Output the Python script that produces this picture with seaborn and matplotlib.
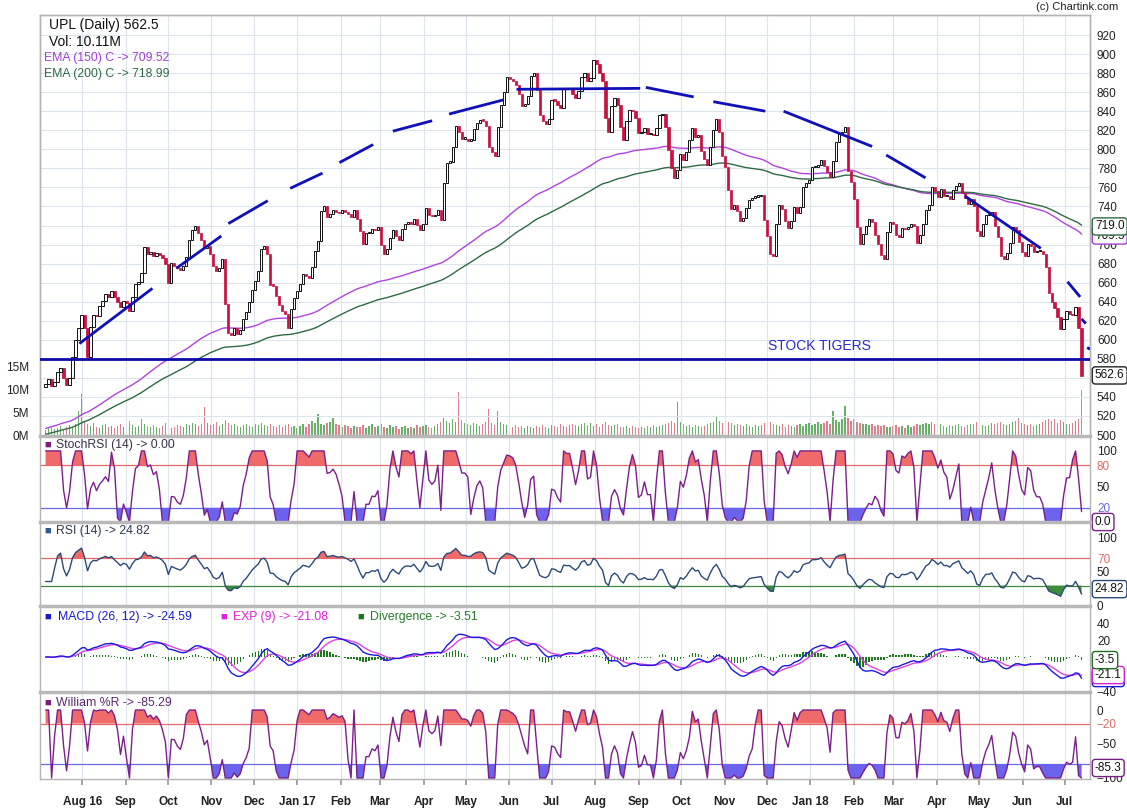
import numpy as np
import pandas as pd
import matplotlib
matplotlib.use("Agg")
import matplotlib.pyplot as plt
import matplotlib.dates as mdates
import seaborn as sns

# ---------------- data ----------------
start_date = "2016-07-06"
end_date = "2018-07-13"
n_trading_days = 505
first_open = 550.0
closes = [
    554, 559, 551, 556, 566, 570, 560, 553, 560, 582, 600, 612, 626, 612, 582, 613, 626, 625, 635, 641,
    648, 645, 651, 645, 640, 634, 641, 639, 630, 645, 659, 661, 670, 697, 690, 692, 688, 691, 689, 686,
    680, 660, 681, 678, 675, 673, 678, 687, 705, 715, 720, 712, 705, 696, 699, 690, 677, 672, 675, 685,
    638, 607, 605, 612, 606, 610, 622, 629, 640, 652, 662, 672, 695, 699, 690, 658, 657, 646, 637, 630,
    627, 612, 632, 644, 651, 659, 669, 667, 665, 676, 693, 704, 735, 740, 729, 732, 736, 734, 733, 736,
    734, 732, 729, 736, 727, 714, 701, 712, 712, 716, 715, 718, 700, 690, 695, 707, 715, 709, 705, 716,
    722, 723, 722, 727, 721, 715, 722, 738, 731, 730, 731, 736, 726, 765, 786, 787, 802, 824, 818, 811,
    811, 809, 810, 821, 828, 831, 830, 824, 802, 797, 793, 823, 846, 860, 876, 874, 872, 868, 858, 845,
    848, 856, 877, 880, 862, 836, 830, 827, 832, 852, 851, 846, 843, 864, 863, 863, 858, 854, 861, 876,
    880, 872, 875, 894, 890, 880, 872, 833, 818, 845, 854, 846, 823, 810, 830, 841, 840, 833, 817, 818,
    822, 816, 816, 815, 822, 836, 837, 823, 799, 780, 770, 778, 795, 789, 797, 810, 822, 813, 815, 798,
    790, 784, 802, 820, 832, 818, 793, 781, 757, 737, 741, 735, 725, 728, 738, 747, 749, 750, 751, 752,
    726, 709, 690, 688, 722, 741, 737, 725, 717, 725, 739, 733, 739, 760, 765, 768, 781, 781, 783, 789,
    782, 776, 771, 788, 808, 816, 818, 823, 777, 766, 748, 718, 701, 711, 720, 727, 724, 710, 701, 689,
    685, 713, 724, 722, 710, 708, 717, 716, 718, 722, 719, 702, 710, 722, 736, 742, 760, 756, 750, 758,
    751, 751, 748, 757, 761, 765, 754, 749, 743, 748, 740, 714, 709, 722, 731, 731, 734, 720, 708, 688,
    685, 691, 702, 718, 715, 703, 692, 688, 701, 699, 692, 693, 693, 690, 676, 649, 640, 633, 624, 611,
    622, 630, 627, 626, 634, 612, 562.5,
]
volumes_m = [
    1.4, 1.7, 2.1, 1.5, 1.8, 2.2, 1.6, 1.9, 2.4, 2.0, 2.6, 5.5, 9.2, 3.1, 2.5, 2.2, 2.8, 2.0, 1.8, 2.3,
    2.6, 1.9, 2.2, 1.7, 2.1, 2.5, 1.9, 2.8, 3.3, 2.4, 2.0, 2.2, 3.6, 2.7, 2.1, 1.9, 2.3, 2.0, 1.7, 2.2,
    2.9, 2.1, 1.8, 2.0, 2.4, 2.2, 1.9, 2.6, 2.3, 2.8, 2.5, 2.1, 2.7, 6.2, 2.9, 2.4, 2.6, 3.0, 2.2, 2.5,
    3.4, 2.8, 2.3, 2.6, 2.1, 1.9, 2.4, 2.7, 2.2, 2.0, 2.5, 2.3, 2.9, 2.4, 2.1, 2.6, 2.2, 1.9, 2.4, 2.0,
    2.3, 2.6, 1.9, 2.1, 1.8, 2.2, 2.5, 2.0, 2.7, 3.2, 2.9, 4.8, 2.6, 2.3, 2.8, 3.1, 4.0, 2.7, 2.3, 2.0,
    2.4, 2.1, 1.8, 2.2, 1.9, 2.0, 2.3, 1.7, 2.1, 2.5, 1.9, 2.2, 2.6, 2.0, 1.8, 2.3, 1.9, 2.1, 1.6, 2.0,
    2.2, 1.8, 2.0, 1.7, 2.3, 1.9, 2.1, 2.4, 2.0, 1.8, 2.2, 2.6, 3.0, 4.0, 3.3, 2.8, 3.6, 3.1, 9.5, 3.4,
    2.9, 2.6, 2.3, 2.8, 2.5, 2.2, 2.7, 3.1, 5.9, 2.9, 2.4, 5.5, 3.0, 2.7, 2.4, 2.2, 2.0, 2.3, 1.9, 2.1,
    1.8, 2.2, 2.0, 1.7, 2.1, 1.9, 2.4, 2.0, 1.8, 2.3, 2.1, 1.9, 2.5, 2.2, 2.0, 2.4, 2.7, 2.3, 2.1, 2.6,
    2.9, 2.4, 2.8, 2.2, 2.5, 2.0, 2.7, 3.0, 2.4, 2.1, 2.3, 2.6, 2.0, 1.9, 2.2, 1.8, 2.1, 1.9, 1.7, 2.0,
    1.8, 2.1, 1.9, 2.3, 2.0, 2.2, 2.4, 2.6, 2.9, 3.2, 2.8, 7.3, 3.0, 2.6, 2.2, 2.4, 2.0, 2.3, 2.1, 1.9,
    2.2, 2.5, 2.8, 3.0, 4.4, 3.2, 2.9, 2.6, 3.1, 2.8, 2.4, 2.6, 2.3, 2.1, 2.5, 2.2, 2.0, 2.4, 2.1, 2.3,
    2.8, 3.3, 3.0, 2.6, 2.4, 2.2, 2.5, 2.0, 2.3, 2.1, 1.9, 2.4, 2.6, 2.2, 2.5, 2.8, 2.4, 2.7, 3.0, 2.6,
    2.9, 3.2, 2.7, 5.5, 3.4, 3.0, 3.8, 6.6, 3.9, 3.3, 3.6, 3.1, 2.8, 2.5, 2.7, 2.3, 2.6, 2.2, 2.4, 2.1,
    2.3, 2.0, 1.9, 2.2, 2.4, 2.0, 2.1, 1.8, 2.3, 2.0, 2.2, 2.5, 2.3, 2.6, 2.9, 2.7, 3.1, 2.5, 2.3, 2.6,
    2.2, 2.0, 2.4, 2.1, 2.3, 2.5, 2.2, 2.0, 2.4, 2.7, 2.5, 3.0, 2.6, 2.3, 2.1, 2.4, 2.8, 2.5, 2.9, 3.1,
    2.7, 2.4, 2.6, 3.0, 3.3, 4.0, 2.9, 2.6, 2.3, 2.5, 2.2, 2.4, 2.7, 3.0, 3.4, 3.8, 3.2, 3.6, 2.9, 3.5,
    3.1, 2.7, 2.5, 2.9, 3.3, 3.7, 10.1,
]
ema150_seed = 506.0
ema200_seed = 500.0
support_price = 580.0
month_starts = pd.date_range("2016-08-01", "2018-07-01", freq="MS")
month_labels = ["Aug 16", "Sep", "Oct", "Nov", "Dec", "Jan 17", "Feb", "Mar", "Apr",
                "May", "Jun", "Jul", "Aug", "Sep", "Oct", "Nov", "Dec", "Jan 18",
                "Feb", "Mar", "Apr", "May", "Jun", "Jul"]
trend_start_dates = ["2016-07-30", "2016-10-07", "2016-11-13", "2016-12-27", "2017-01-31",
                     "2017-03-10", "2017-04-19", "2017-06-06", "2017-09-06", "2017-10-24",
                     "2017-12-13", "2018-02-24", "2018-04-21", "2018-07-03", "2018-07-13",
                     "2018-07-17"]
trend_start_prices = [596, 675, 722, 759, 786, 819, 837, 863, 865, 850, 840, 794, 751, 661, 622, 592]
trend_end_dates = ["2016-09-20", "2016-11-08", "2016-12-11", "2017-01-19", "2017-02-24",
                   "2017-04-07", "2017-05-28", "2017-09-02", "2017-10-10", "2017-11-30",
                   "2018-02-14", "2018-03-24", "2018-06-14", "2018-07-12", "2018-07-16",
                   "2018-07-19"]
trend_end_prices = [654, 709, 746, 775, 805, 830, 852, 864, 855, 840, 803, 770, 696, 645, 617, 590]
price_ticks = list(range(500, 921, 20))
vol_ticks = [0, 5, 10, 15]
vol_labels = ["0M", "5M", "10M", "15M"]

# ---------------- derived series ----------------
c = pd.Series(closes, dtype=float)
dates = pd.date_range(start_date, end_date, periods=len(c))
x = mdates.date2num(dates)
opens = np.r_[first_open, c.values[:-1]]
vols = np.array(volumes_m)
up = c.values >= opens

step = n_trading_days / (len(c) - 1)          # trading days per sample


def per(p):
    return max(2, int(round(p / step)))


ema150 = pd.Series([ema150_seed] + closes).ewm(span=per(150), adjust=False).mean().values[1:]
ema200 = pd.Series([ema200_seed] + closes).ewm(span=per(200), adjust=False).mean().values[1:]

d = c.diff()
ag = d.clip(lower=0).ewm(alpha=1 / per(14), adjust=True).mean()
al = (-d.clip(upper=0)).ewm(alpha=1 / per(14), adjust=True).mean()
rsi = (100 - 100 / (1 + ag / al.replace(0, np.nan))).bfill().fillna(50)
lo = rsi.rolling(per(14), min_periods=1).min()
hi = rsi.rolling(per(14), min_periods=1).max()
stoch = ((rsi - lo) / (hi - lo).replace(0, np.nan) * 100).bfill().fillna(50)
macd = c.ewm(span=per(12), adjust=True).mean() - c.ewm(span=per(26), adjust=True).mean()
signal = macd.ewm(span=per(9), adjust=True).mean()
hist = macd - signal
hh = c.rolling(per(14), min_periods=1).max()
ll = c.rolling(per(14), min_periods=1).min()
willr = (-100 * (hh - c) / (hh - ll).replace(0, np.nan)).bfill().fillna(-50)

# ---------------- figure ----------------
sns.set_theme(style="white")
plt.rcParams["font.family"] = ["Liberation Sans", "DejaVu Sans"]
W, H = 1127, 809
fig = plt.figure(figsize=(W / 100, H / 100), dpi=100)
fig.patch.set_facecolor("white")


def make_axes(top, bottom):
    return fig.add_axes([40 / W, 1 - bottom / H, 1050 / W, (bottom - top) / H])


ax_vol = make_axes(15, 436)
ax_p = make_axes(15, 436)
ax_s = make_axes(436, 522)
ax_r = make_axes(522, 606)
ax_m = make_axes(606, 692)
ax_w = make_axes(692, 779)
all_axes = [ax_vol, ax_p, ax_s, ax_r, ax_m, ax_w]

x0 = mdates.date2num(pd.Timestamp("2016-07-02"))
x1 = mdates.date2num(pd.Timestamp("2018-07-19"))
mt = mdates.date2num(month_starts)
GRID = "#dbe5eb"
FS = 8.5
FL = 8.8

for a in all_axes:
    a.set_xlim(x0, x1)
    a.set_facecolor("none")
    for s in a.spines.values():
        s.set_color("#b3b3b3")
        s.set_linewidth(1)
    a.tick_params(axis="x", bottom=False, labelbottom=False)
    if a is not ax_vol:
        for m in mt:
            a.axvline(m, color=GRID, lw=0.8, zorder=0)

# ---- volume (behind) ----
ax_vol.set_ylim(0, 91.5)
vcol = np.where(up, "#68b068", "#e0808f")
ax_vol.bar(x, vols, width=0.9, color=vcol, linewidth=0, zorder=1)
ax_vol.set_yticks(vol_ticks)
ax_vol.set_yticklabels(vol_labels)
ax_vol.tick_params(axis="y", left=False, right=False, labelleft=True, labelright=False,
                   labelsize=FS, pad=2, labelcolor="#222")
ax_vol.set_xticks([])

# ---- price ----
ax_p.set_ylim(499, 941)
for t in price_ticks:
    ax_p.axhline(t, color=GRID, lw=0.8, zorder=0)
ax_p.yaxis.tick_right()
ax_p.set_yticks(price_ticks)
ax_p.tick_params(axis="y", length=0, pad=5, labelsize=FS, labelcolor="#222")

sns.lineplot(x=x, y=ema150, ax=ax_p, color="#b044e0", lw=1, estimator=None, legend=False, zorder=2)
sns.lineplot(x=x, y=ema200, ax=ax_p, color="#2e6b45", lw=1, estimator=None, legend=False, zorder=2)

cw = (x[1] - x[0]) * 0.75
body_lo = np.minimum(opens, c.values)
body_h = np.maximum(np.abs(c.values - opens), 1.5)
ax_p.bar(x[~up], body_h[~up], bottom=body_lo[~up], width=cw, color="#cc1040",
         edgecolor="#c40e3c", linewidth=0.5, zorder=3)
ax_p.bar(x[up], body_h[up], bottom=body_lo[up], width=cw, facecolor="white",
         edgecolor="#111111", linewidth=0.7, zorder=3)

ax_p.axhline(support_price, color="#0b0ba8", lw=2.0, zorder=4)
for sd, sp, ed, ep in zip(trend_start_dates, trend_start_prices, trend_end_dates, trend_end_prices):
    ax_p.plot(mdates.date2num([pd.Timestamp(sd), pd.Timestamp(ed)]), [sp, ep],
              color="#1010b8", lw=2.0, solid_capstyle="butt", zorder=4)
ax_p.text(mdates.date2num(pd.Timestamp("2017-12-02")), 594, "STOCK TIGERS",
          color="#2a2ad0", fontsize=10, va="center", ha="left", zorder=5)


def value_box(ax, val, txt, ec, z=10):
    ax.annotate(txt, xy=(1.0, val), xycoords=("axes fraction", "data"), xytext=(3.5, 0),
                textcoords="offset points", ha="left", va="center", fontsize=FS, color="#111",
                bbox=dict(boxstyle="round,pad=0.22,rounding_size=0.25", fc="white", ec=ec, lw=1),
                annotation_clip=False, zorder=z)


value_box(ax_p, 709.5, "709.5", "#a040d0", 9)
value_box(ax_p, 719.0, "719.0", "#2e6b45", 10)
value_box(ax_p, 562.6, "562.6", "#222222", 10)

# ---- StochRSI ----
ax_s.set_ylim(0, 121)
ax_s.axhline(80, color="#e06a6a", lw=0.9, zorder=1)
ax_s.axhline(20, color="#6a6ae0", lw=0.9, zorder=1)
ax_s.fill_between(x, stoch.values, 80, where=stoch.values >= 80, interpolate=True, color="#f06a6a", lw=0, zorder=2)
ax_s.fill_between(x, stoch.values, 20, where=stoch.values <= 20, interpolate=True, color="#6b62ee", lw=0, zorder=2)
sns.lineplot(x=x, y=stoch.values, ax=ax_s, color="#7b1f8a", lw=1, estimator=None, legend=False, zorder=3)
ax_s.yaxis.tick_right()
ax_s.set_yticks([20, 50, 80, 100])
ax_s.tick_params(axis="y", length=0, pad=5, labelsize=FS, labelcolor="#222")
for lab, col in zip(ax_s.get_yticklabels(), ["#6a6ae0", "#222", "#e06a6a", "#222"]):
    lab.set_color(col)
value_box(ax_s, 0, "0.0", "#7b1f8a")

# ---- RSI ----
ax_r.set_ylim(0, 123.5)
ax_r.axhline(70, color="#e06a6a", lw=0.9, zorder=1)
ax_r.axhline(30, color="#3c8c3c", lw=0.9, zorder=1)
ax_r.fill_between(x, rsi.values, 70, where=rsi.values >= 70, interpolate=True, color="#f06a6a", lw=0, zorder=2)
ax_r.fill_between(x, rsi.values, 30, where=rsi.values <= 30, interpolate=True, color="#3c8c3c", lw=0, zorder=2)
sns.lineplot(x=x, y=rsi.values, ax=ax_r, color="#2c4a78", lw=1, estimator=None, legend=False, zorder=3)
ax_r.yaxis.tick_right()
ax_r.set_yticks([0, 50, 70, 100])
ax_r.tick_params(axis="y", length=0, pad=5, labelsize=FS, labelcolor="#222")
for lab, col in zip(ax_r.get_yticklabels(), ["#222", "#222", "#e06a6a", "#222"]):
    lab.set_color(col)
value_box(ax_r, 24.82, "24.82", "#2c4a78")

# ---- MACD ----
ax_m.set_ylim(-41, 60)
ax_m.bar(x, hist.values, width=0.9, color="#1a7a1a", linewidth=0, zorder=2)
sns.lineplot(x=x, y=signal.values, ax=ax_m, color="#e040e0", lw=1, estimator=None, legend=False, zorder=3)
sns.lineplot(x=x, y=macd.values, ax=ax_m, color="#1a1ae0", lw=1, estimator=None, legend=False, zorder=4)
ax_m.yaxis.tick_right()
ax_m.set_yticks([-40, -20, 0, 20, 40])
ax_m.tick_params(axis="y", length=0, pad=5, labelsize=FS, labelcolor="#222")
value_box(ax_m, -24.59, "-24.6", "#1a1ae0", 8)
value_box(ax_m, -21.08, "-21.1", "#d020d0", 9)
value_box(ax_m, -3.51, "-3.5", "#1f6f1f", 10)

# ---- Williams %R ----
ax_w.set_ylim(-101.5, 26.5)
ax_w.axhline(-20, color="#e06a6a", lw=0.9, zorder=1)
ax_w.axhline(-80, color="#6a6ae0", lw=0.9, zorder=1)
ax_w.fill_between(x, willr.values, -20, where=willr.values >= -20, interpolate=True, color="#f06a6a", lw=0, zorder=2)
ax_w.fill_between(x, willr.values, -80, where=willr.values <= -80, interpolate=True, color="#6b62ee", lw=0, zorder=2)
sns.lineplot(x=x, y=willr.values, ax=ax_w, color="#7b1f8a", lw=1, estimator=None, legend=False, zorder=3)
ax_w.yaxis.tick_right()
ax_w.set_yticks([-100, -50, -20, 0])
ax_w.tick_params(axis="y", length=0, pad=5, labelsize=FS, labelcolor="#222")
for lab, col in zip(ax_w.get_yticklabels(), ["#222", "#222", "#e06a6a", "#222"]):
    lab.set_color(col)
value_box(ax_w, -85.29, "-85.3", "#7b1f8a")

for a in [ax_s, ax_r, ax_m, ax_w]:
    a.spines["top"].set_linewidth(2.5)
    a.spines["top"].set_color("#b8b8b8")
    a.set_ylabel("")
ax_p.set_ylabel("")
ax_vol.set_ylabel("")

# x-axis labels
ax_w.set_xticks(mt)
ax_w.set_xticklabels(month_labels, fontweight="bold", fontsize=FS, color="#222")
ax_w.tick_params(axis="x", bottom=True, labelbottom=True, length=4, pad=8, color="#999")
ax_w.set_xlim(x0, x1)


# ---- header texts ----
def ftext(px, py, s, color="#111", size=FS, ha="left"):
    fig.text(px / W, 1 - py / H, s, color=color, fontsize=size, ha=ha, va="center")


ftext(49, 25, "UPL (Daily) 562.5", size=10)
ftext(49, 42, "Vol: 10.11M", size=10)
ftext(44, 58, "EMA (150) C -> 709.52", "#a040d8", size=8.8)
ftext(44, 74, "EMA (200) C -> 718.99", "#2e6b45", size=8.8)
ftext(1118, 7, "(c) Chartink.com", "#222", size=8, ha="right")

SQ = 8
ftext(44, 445, "\u25a0", "#7b1f7b", size=SQ)
ftext(56, 445, "StochRSI (14) -> 0.00", "#3a3048", size=FL)
ftext(44, 531, "\u25a0", "#2e5a8c", size=SQ)
ftext(56, 531, "RSI (14) -> 24.82", "#2e3a50", size=FL)
ftext(44, 617, "\u25a0", "#1a1ad0", size=SQ)
ftext(58, 617, "MACD (26, 12) -> -24.59", "#1a1ad0", size=FL)
ftext(220, 617, "\u25a0", "#e020e0", size=SQ)
ftext(233, 617, "EXP (9) -> -21.08", "#e020e0", size=FL)
ftext(357, 617, "\u25a0", "#1a7a1a", size=SQ)
ftext(370, 617, "Divergence -> -3.51", "#2a7a2a", size=FL)
ftext(44, 703, "\u25a0", "#7b1f7b", size=SQ)
ftext(56, 703, "William %R -> -85.29", "#5a2a6a", size=FL)

fig.savefig("out.png", dpi=100, facecolor="white")
